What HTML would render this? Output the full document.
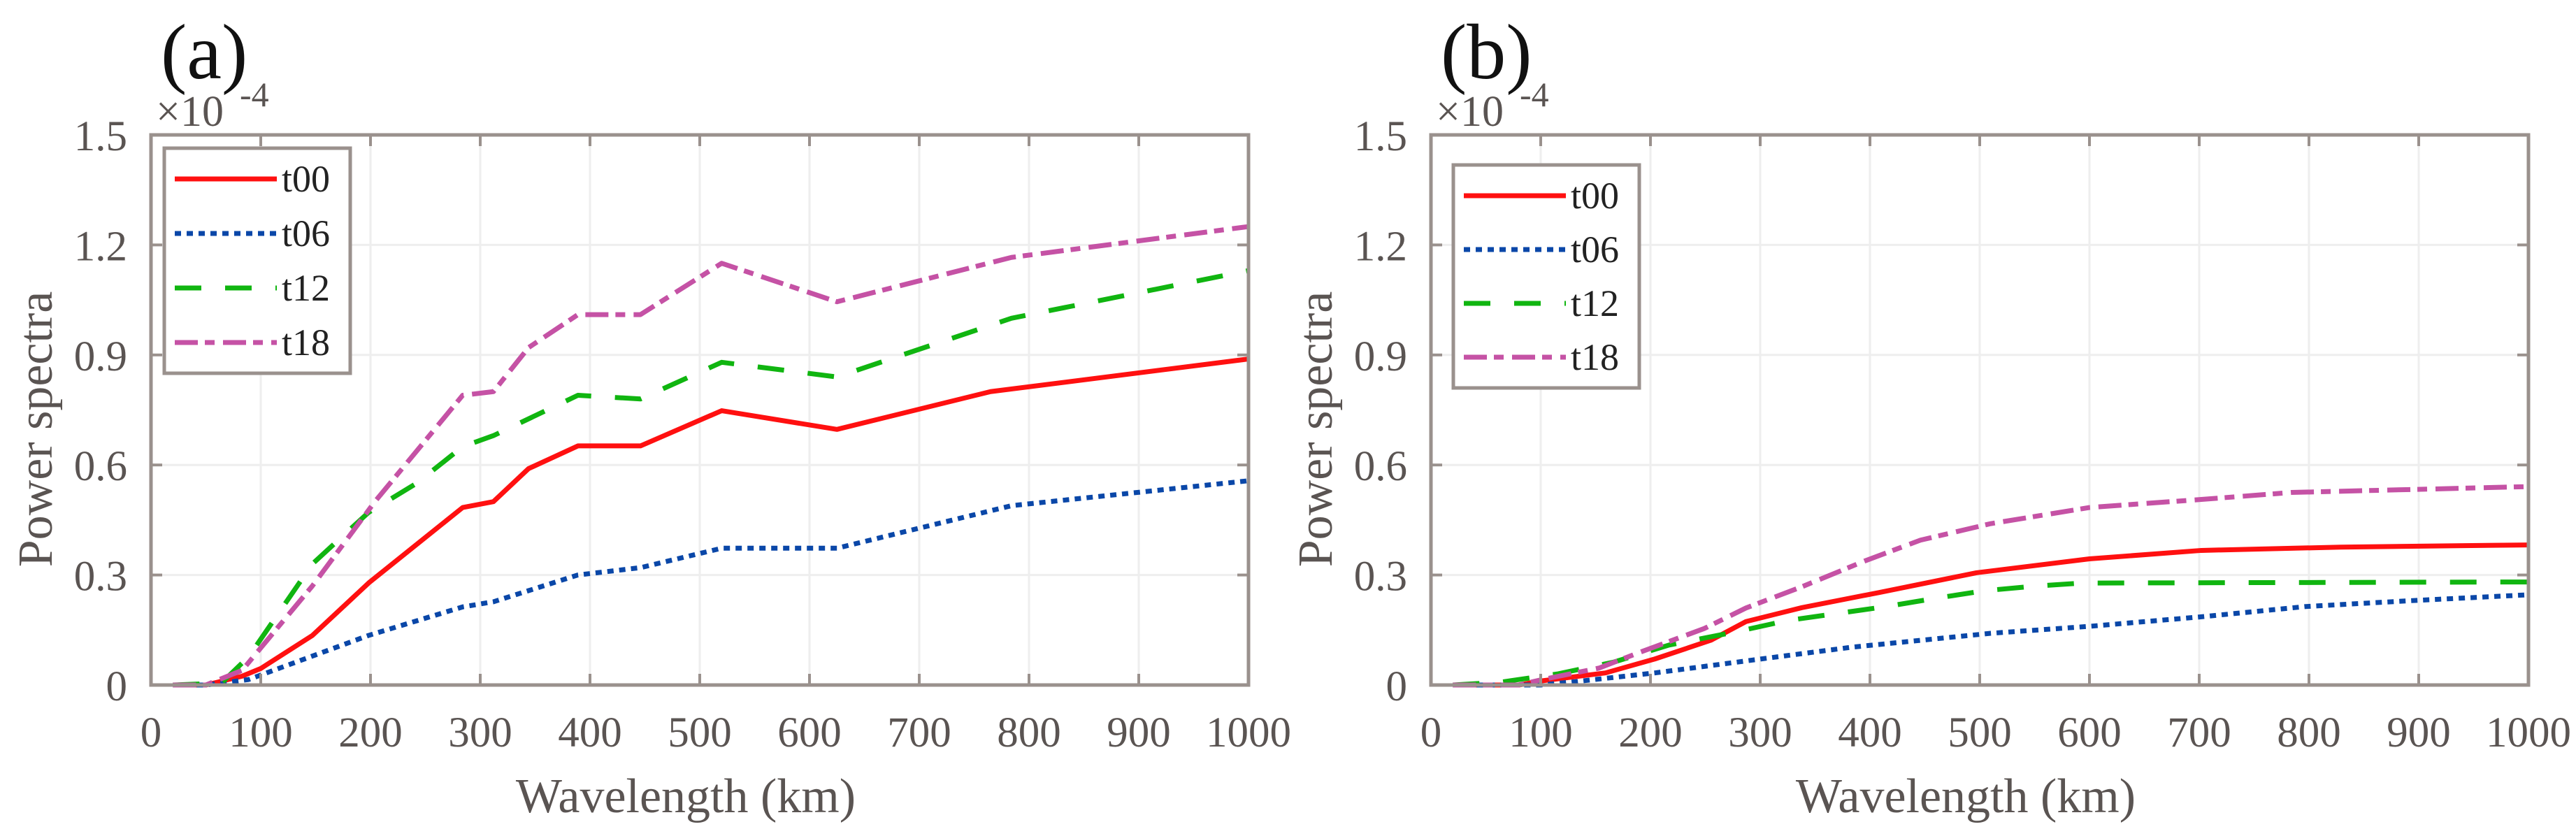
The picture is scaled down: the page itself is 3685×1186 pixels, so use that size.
<!DOCTYPE html>
<html><head><meta charset="utf-8"><style>
html,body{margin:0;padding:0;background:#fff}
svg{display:block}
text{font-family:"Liberation Serif",serif}
</style></head><body>
<svg id="fig" width="3685" height="1186" viewBox="0 0 3685 1186" xmlns="http://www.w3.org/2000/svg"></svg>
<script>
// ---- data ----
const xTicks = [0,100,200,300,400,500,600,700,800,900,1000];
const yTicks = [0,0.3,0.6,0.9,1.2,1.5];
const yTickLabels = ["0","0.3","0.6","0.9","1.2","1.5"];
const seriesNames = ["t00","t06","t12","t18"];

const aX_t00 = [20,50,83,100,147,199,284,312,344,389,446,520,625,765,1000];
const aY_t00 = [0,0,0.024,0.045,0.135,0.28,0.484,0.50,0.59,0.652,0.652,0.748,0.697,0.80,0.889];
const aX_t06 = [20,50,89,198,284,312,389,446,520,625,784,1000];
const aY_t06 = [0,0,0.015,0.135,0.213,0.227,0.30,0.32,0.373,0.373,0.489,0.557];
const aX_t12 = [20,64,89,147,198,242,284,312,389,446,520,625,784,1000];
const aY_t12 = [0,0.005,0.077,0.33,0.47,0.55,0.65,0.68,0.79,0.78,0.88,0.84,1.0,1.13];
const aX_t18 = [20,50,83,147,204,284,312,344,389,446,520,625,784,1000];
const aY_t18 = [0,0,0.04,0.27,0.50,0.79,0.80,0.92,1.01,1.01,1.15,1.045,1.166,1.25];

const bX_t00 = [20,80,100,159,204,255,287,338,408,497,600,702,829,1000];
const bY_t00 = [0,0,0.011,0.033,0.071,0.122,0.173,0.211,0.252,0.306,0.344,0.367,0.376,0.382];
const bX_t06 = [20,100,128,204,293,383,510,600,702,797,893,1000];
const bY_t06 = [0,0,0.008,0.033,0.068,0.103,0.141,0.16,0.186,0.214,0.23,0.246];
const bX_t12 = [20,64,115,166,217,281,325,370,415,459,504,548,593,1000];
const bY_t12 = [0,0.008,0.03,0.062,0.109,0.147,0.176,0.195,0.214,0.236,0.257,0.269,0.278,0.281];
const bX_t18 = [20,80,100,153,191,249,287,338,395,446,510,600,702,784,1000];
const bY_t18 = [0,0,0.014,0.046,0.09,0.154,0.21,0.268,0.338,0.395,0.44,0.484,0.506,0.525,0.541];

// ---- rendering ----
const NS = "http://www.w3.org/2000/svg";
const svg = document.getElementById('fig');
const AX = "#9a918d";
const styles = {
  t00:{c:"#ff1010",d:""},
  t06:{c:"#0a47a8",d:"9,8"},
  t12:{c:"#10b510",d:"38,34"},
  t18:{c:"#c552a5",d:"33,10,14,12"}
};
function mk(tag, attrs, parent){
  const e = document.createElementNS(NS, tag);
  for (const k in attrs) e.setAttribute(k, attrs[k]);
  (parent||svg).appendChild(e);
  return e;
}
function panel(id, L, series, label, legBox){
  const R = L + 1570, T = 193, B = 980;
  const g = mk('g', {});
  
  
  const sx = v => L + v/1000*(R-L);
  const sy = v => B - v/1.5*(B-T);
  xTicks.forEach(v=>{ if(v>0&&v<1000){ const l=mk('line',{x1:sx(v),x2:sx(v),y1:T,y2:B,stroke:"#eeeeee","stroke-width":3},g);
     }});
  yTicks.forEach(v=>{ if(v>0&&v<1.5){ const l=mk('line',{x1:L,x2:R,y1:sy(v),y2:sy(v),stroke:"#eeeeee","stroke-width":3},g);
     }});
  seriesNames.forEach((n,i)=>{
    const xs = series[i][0], ys = series[i][1];
    const pts = xs.map((x,j)=>sx(x)+","+sy(ys[j])).join(" ");
    const p = mk('polyline',{points:pts,fill:"none",stroke:styles[n].c,"stroke-width":7,"stroke-dasharray":styles[n].d,"stroke-linejoin":"round"},g);
    
    
  });
  const box = mk('rect',{x:L,y:T,width:R-L,height:B-T,fill:"none",stroke:AX,"stroke-width":5},g);
   
  xTicks.forEach(v=>{
    mk('line',{x1:sx(v),x2:sx(v),y1:B,y2:B-16,stroke:AX,"stroke-width":4},g);
    mk('line',{x1:sx(v),x2:sx(v),y1:T,y2:T+16,stroke:AX,"stroke-width":4},g);
    const t = mk('text',{x:sx(v),y:1068,"font-size":61,"text-anchor":"middle",fill:"#5a5452"},g);
    t.textContent = v;
     
  });
  yTicks.forEach((v,i)=>{
    mk('line',{x1:L,x2:L+16,y1:sy(v),y2:sy(v),stroke:AX,"stroke-width":4},g);
    mk('line',{x1:R,x2:R-16,y1:sy(v),y2:sy(v),stroke:AX,"stroke-width":4},g);
    const t = mk('text',{x:L-34,y:sy(v)+22,"font-size":61,"text-anchor":"end",fill:"#5a5452"},g);
    t.textContent = yTickLabels[i];
     
  });
  const ex = mk('text',{x:L+7,y:180,"font-size":62,fill:"#5a5452"},g);
  ex.textContent = "×10";
   
  const ex2 = mk('text',{x:L+127,y:152,"font-size":50,fill:"#5a5452"},g);
  ex2.textContent = "-4";
   
  const pl = mk('text',{x:L+14,y:112,"font-size":112,fill:"#111"},g);
  pl.textContent = label;
   
  const xt = mk('text',{x:(L+R)/2-20,y:1162,"font-size":70,"text-anchor":"middle",fill:"#5a5452"},g);
  xt.textContent = "Wavelength (km)";
   
  const yx = L-142, yy = 614;
  const yt = mk('text',{x:yx,y:yy,"font-size":70,"text-anchor":"middle",fill:"#5a5452",transform:`rotate(-90 ${yx} ${yy})`},g);
  yt.textContent = "Power spectra";
   
  const lg = mk('g',{},g);
   
  mk('rect',{x:legBox[0],y:legBox[1],width:266,height:legBox[2]-legBox[1],fill:"#fff",stroke:AX,"stroke-width":5},lg);
  const step = (legBox[2]-legBox[1]-88)/3;
  seriesNames.forEach((n,i)=>{
    const y = legBox[1]+44+i*step;
    const e = mk('g',{},lg);
     
    mk('line',{x1:legBox[0]+15,x2:legBox[0]+161,y1:y,y2:y,stroke:styles[n].c,"stroke-width":7,"stroke-dasharray":styles[n].d},e);
    const t = mk('text',{x:legBox[0]+168,y:y+18,"font-size":54,fill:"#222"},e);
    t.textContent = n;
  });
}
panel('a',216,[[aX_t00,aY_t00],[aX_t06,aY_t06],[aX_t12,aY_t12],[aX_t18,aY_t18]],"(a)",[235,212,534]);
panel('b',2047,[[bX_t00,bY_t00],[bX_t06,bY_t06],[bX_t12,bY_t12],[bX_t18,bY_t18]],"(b)",[2079,236,555]);
</script>
</body></html>
